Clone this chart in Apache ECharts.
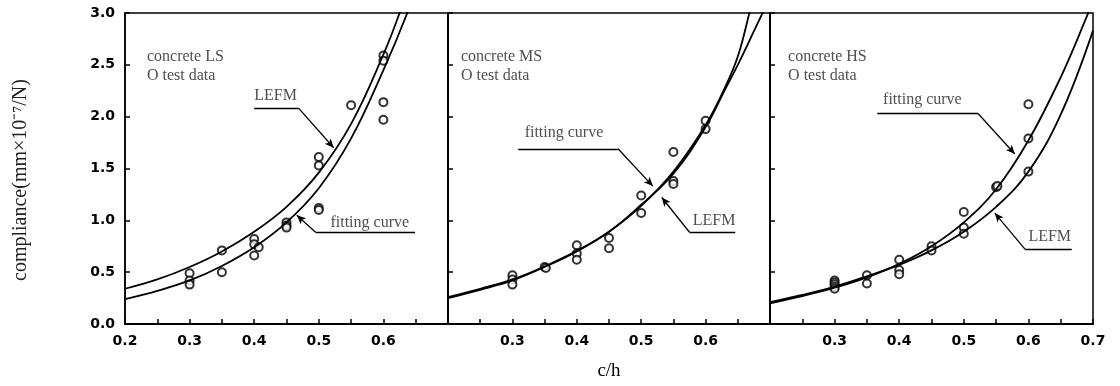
<!DOCTYPE html>
<html>
<head>
<meta charset="utf-8">
<script src="https://cdn.jsdelivr.net/npm/echarts@6/dist/echarts.min.js"></script>
<style>html,body{margin:0;padding:0;background:#fff}#c{width:1120px;height:386px}</style>
</head>
<body>
<div id="c"></div>
<script>
// ---- data ----
const panelNames = ['concrete LS', 'concrete MS', 'concrete HS'];
const yTicks = [0, 0.5, 1.0, 1.5, 2.0, 2.5, 3.0];

const lsTest = [[0.3,0.49],[0.3,0.42],[0.3,0.38],[0.35,0.71],[0.35,0.50],[0.4,0.82],[0.4,0.77],[0.4,0.66],[0.407,0.74],[0.45,0.98],[0.45,0.95],[0.45,0.93],[0.5,1.61],[0.5,1.53],[0.5,1.12],[0.5,1.10],[0.55,2.11],[0.6,2.59],[0.6,2.54],[0.6,2.14],[0.6,1.97]];
const lsLefm = [[0.2,0.34],[0.25,0.43],[0.3,0.55],[0.35,0.70],[0.4,0.89],[0.45,1.13],[0.5,1.46],[0.55,1.93],[0.6,2.60],[0.625,3.0],[0.64,3.3]];
const lsFit  = [[0.2,0.24],[0.25,0.32],[0.3,0.42],[0.35,0.56],[0.4,0.74],[0.45,0.98],[0.5,1.31],[0.55,1.79],[0.6,2.45],[0.637,3.0],[0.65,3.25]];

const msTest = [[0.3,0.47],[0.3,0.43],[0.3,0.38],[0.35,0.55],[0.352,0.54],[0.4,0.76],[0.4,0.68],[0.4,0.62],[0.45,0.83],[0.45,0.73],[0.5,1.24],[0.5,1.07],[0.55,1.66],[0.55,1.38],[0.55,1.35],[0.6,1.96],[0.6,1.88]];
const msFit  = [[0.2,0.25],[0.25,0.33],[0.3,0.42],[0.35,0.55],[0.4,0.70],[0.45,0.89],[0.5,1.14],[0.55,1.47],[0.6,1.92],[0.63,2.28],[0.65,2.58],[0.668,3.0],[0.68,3.3]];
const msLefm = [[0.2,0.26],[0.25,0.34],[0.3,0.43],[0.35,0.555],[0.4,0.705],[0.45,0.89],[0.5,1.15],[0.55,1.45],[0.6,1.90],[0.63,2.26],[0.65,2.50],[0.68,2.89],[0.7,3.15]];

const hsTest = [[0.3,0.42],[0.3,0.40],[0.3,0.38],[0.3,0.36],[0.3,0.34],[0.35,0.47],[0.35,0.39],[0.4,0.62],[0.4,0.52],[0.4,0.48],[0.45,0.75],[0.45,0.71],[0.5,1.08],[0.5,0.93],[0.5,0.87],[0.55,1.32],[0.552,1.33],[0.6,2.12],[0.6,1.79],[0.6,1.47]];
const hsFit  = [[0.2,0.20],[0.25,0.27],[0.3,0.35],[0.35,0.45],[0.4,0.58],[0.45,0.75],[0.5,0.98],[0.55,1.30],[0.6,1.77],[0.65,2.38],[0.69,2.96],[0.7,3.12]];
const hsLefm = [[0.2,0.21],[0.25,0.28],[0.3,0.36],[0.35,0.46],[0.4,0.57],[0.45,0.71],[0.5,0.89],[0.55,1.13],[0.6,1.47],[0.65,2.02],[0.7,2.83]];

// annotation texts [x, y, text] (data coordinates)
const annoText = [
  [[0.234,2.58,'concrete LS'],[0.234,2.39,'O test data'],[0.40,2.20,'LEFM'],[0.518,0.98,'fitting curve']],
  [[0.22,2.58,'concrete MS'],[0.22,2.39,'O test data'],[0.319,1.84,'fitting curve'],[0.58,1.0,'LEFM']],
  [[0.228,2.58,'concrete HS'],[0.228,2.39,'O test data'],[0.375,2.16,'fitting curve'],[0.60,0.84,'LEFM']]
];
// leader lines: [free end, corner, arrow tip]
const leaders = [
  [ [[0.40,2.08],[0.469,2.08],[0.523,1.70]] , [[0.649,0.885],[0.495,0.885],[0.466,1.05]] ],
  [ [[0.309,1.69],[0.464,1.69],[0.518,1.33]] , [[0.646,0.885],[0.575,0.885],[0.532,1.22]] ],
  [ [[0.366,2.03],[0.522,2.03],[0.579,1.64]] , [[0.667,0.72],[0.595,0.72],[0.548,1.07]] ]
];
const xHidden = [[0.7],[0.2,0.7],[0.2]];
// ---------------------------------------

const chart = echarts.init(document.getElementById('c'), null, {renderer:'canvas'});
const gridsPx = [{left:125, width:323},{left:448, width:322},{left:770, width:323}];
const tickFont = {fontFamily:'DejaVu Sans', fontWeight:'bold', fontSize:14, color:'#000'};
const serif = 'Liberation Serif';

const grids = gridsPx.map(g => ({left:g.left, width:g.width, top:13, height:311, show:true, borderColor:'#000', borderWidth:1.5, backgroundColor:'transparent'}));
const xAxes = gridsPx.map((g,i) => ({
  type:'value', gridIndex:i, min:0.2, max:0.7, interval:0.05,
  axisLine:{show:true, lineStyle:{color:'#000', width:2}},
  axisTick:{show:true, inside:true, length:5, lineStyle:{color:'#000', width:1.5}},
  splitLine:{show:false},
  axisLabel:Object.assign({margin:10, showMinLabel:true, showMaxLabel:true, formatter: v => {
    const t = Math.round(v*100)/100;
    if (Math.abs(t*10 - Math.round(t*10)) > 1e-6) return '';
    if (xHidden[i].some(h => Math.abs(h - t) < 1e-6)) return '';
    return t.toFixed(1);
  }}, tickFont),
  name: i === 1 ? 'c/h' : '', nameLocation:'middle', nameGap:38,
  nameTextStyle:{fontFamily:serif, fontSize:19, color:'#000'}
}));
const yAxes = gridsPx.map((g,i) => ({
  type:'value', gridIndex:i, min:yTicks[0], max:yTicks[yTicks.length-1], interval:0.5,
  axisLine:{show:true, lineStyle:{color:'#000', width:1.5}},
  axisTick:{show:true, inside:true, length:5, lineStyle:{color:'#000', width:1.5}},
  splitLine:{show:false},
  axisLabel:Object.assign({show: i === 0, margin:10, formatter: v => v.toFixed(1)}, tickFont)
}));

const tests = [lsTest, msTest, hsTest];
const curves = [[['LEFM', lsLefm],['fitting curve', lsFit]], [['fitting curve', msFit],['LEFM', msLefm]], [['fitting curve', hsFit],['LEFM', hsLefm]]];
const series = [];
for (let i = 0; i < 3; i++) {
  curves[i].forEach(([nm, d]) => series.push({
    type:'line', name:nm, xAxisIndex:i, yAxisIndex:i, data:d, smooth:0.4, showSymbol:false, symbol:'none',
    lineStyle:{color:'#000', width:1.8}, clip:true, silent:true
  }));
  series.push({
    type:'scatter', name:'test data', xAxisIndex:i, yAxisIndex:i, data:tests[i], symbol:'circle', symbolSize:8,
    itemStyle:{color:'#fff', borderColor:'#000', borderWidth:2}, silent:true
  });
  const ml = [];
  leaders[i].forEach(L => {
    ml.push([{coord:L[0], symbol:'none'},{coord:L[1], symbol:'none'}]);
    ml.push([{coord:L[1], symbol:'none'},{coord:L[2], symbol:'arrow', symbolSize:[6,9]}]);
  });
  series.push({
    type:'scatter', xAxisIndex:i, yAxisIndex:i, symbolSize:0, silent:true,
    data: annoText[i].map(a => ({value:[a[0], a[1]], label:{formatter:a[2]}})),
    label:{show:true, position:'right', distance:0, fontFamily:serif, fontSize:16, color:'#222'},
    markLine:{silent:true, animation:false, symbol:['none','none'], label:{show:false},
      lineStyle:{color:'#000', width:1.3, type:'solid'}, data:ml}
  });
}

chart.setOption({
  animation:false,
  backgroundColor:'#fff',
  grid:grids, xAxis:xAxes, yAxis:yAxes, series:series,
  graphic:[{type:'text', x:21, y:180, rotation:Math.PI/2, style:{text:'compliance(mm×10⁻⁷/N)', fontFamily:serif, fontSize:20, fill:'#222', textAlign:'center', textVerticalAlign:'middle'}}]
});
</script>
</body>
</html>
